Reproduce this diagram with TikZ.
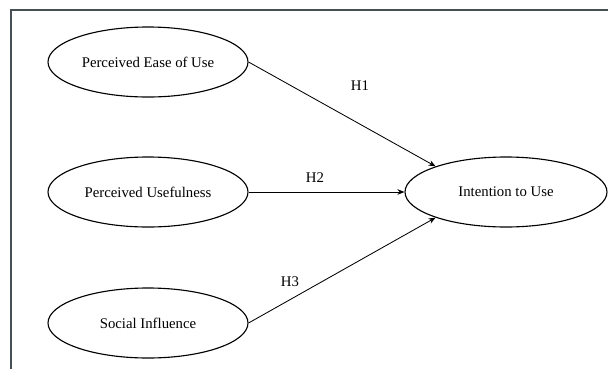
\documentclass[tikz,border=0pt]{standalone}
\usepackage{fontspec}
\setmainfont{Liberation Serif}
\usepackage{tikz}
\usetikzlibrary{arrows.meta, shapes.geometric}
\usepackage{xcolor}
\definecolor{framegray}{RGB}{70,80,84}

\begin{document}
\begin{tikzpicture}[>={Stealth[length=5pt, width=4pt]}, font=\fontsize{10.5}{12}\selectfont]
  \tikzset{construct/.style={draw, ellipse, thick, inner sep=0pt, minimum width=5cm, minimum height=1.75cm}}
  \useasboundingbox (0,0) rectangle (15.2,-9.225);

  \draw[framegray, line width=0.9pt] (0.275,-9.225) -- (0.275,-0.25) -- (15.2,-0.25);

  \node[construct] (PEOU) at (3.7,-1.55) {Perceived Ease of Use};
  \node[construct] (PU) at (3.7,-4.8) {Perceived Usefulness};
  \node[construct] (SI) at (3.7,-8.075) {Social Influence};
  \node[construct, minimum width=5.05cm] (ITU) at (12.65,-4.8) {Intention to Use};

  \draw[->, semithick] (PEOU.east) -- (ITU.160);
  \draw[->, semithick] (PU.east) -- (ITU.west);
  \draw[->, semithick] (SI.east) -- (ITU.200);

  \node (h1) at (9.0,-2.15) {H1};
  \node (h2) at (7.875,-4.45) {H2};
  \node (h3) at (7.25,-7.05) {H3};
\end{tikzpicture}
\end{document}
